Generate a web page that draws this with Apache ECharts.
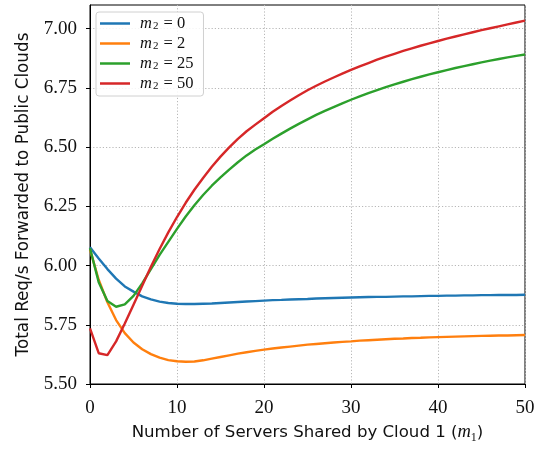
<!DOCTYPE html>
<html>
<head>
<meta charset="utf-8">
<script src="https://cdn.jsdelivr.net/npm/echarts@6/dist/echarts.min.js"></script>
<style>
  html, body { margin: 0; padding: 0; background: #fff; }
  #chart { width: 545px; height: 449px; }
</style>
</head>
<body>
<div id="chart"></div>
<script>
// m1 = 0 .. 50 servers shared by cloud 1
const m1 = Array.from({ length: 51 }, (_, i) => i);

// Total req/s forwarded to public clouds, one array per m2 setting
const m2Labels = ['0', '2', '25', '50'];

const fwdM2_0 = [
  6.077, 6.030, 5.985, 5.945, 5.912, 5.890, 5.870, 5.857, 5.848, 5.842,
  5.839, 5.838, 5.838, 5.839, 5.840, 5.842, 5.844, 5.846, 5.848, 5.850,
  5.852, 5.854, 5.855, 5.857, 5.858, 5.859, 5.861, 5.862, 5.863, 5.864,
  5.865, 5.866, 5.867, 5.868, 5.868, 5.869, 5.870, 5.870, 5.871, 5.872,
  5.872, 5.873, 5.873, 5.874, 5.874, 5.875, 5.875, 5.876, 5.876, 5.876,
  5.877
];

const fwdM2_2 = [
  6.067, 5.940, 5.845, 5.770, 5.715, 5.675, 5.647, 5.626, 5.611, 5.601,
  5.596, 5.594, 5.595, 5.600, 5.607, 5.614, 5.621, 5.628, 5.634, 5.640,
  5.645, 5.650, 5.654, 5.658, 5.662, 5.666, 5.669, 5.672, 5.675, 5.678,
  5.680, 5.683, 5.685, 5.687, 5.689, 5.691, 5.692, 5.694, 5.695, 5.697,
  5.698, 5.699, 5.700, 5.701, 5.702, 5.703, 5.704, 5.705, 5.705, 5.706,
  5.707
];

const fwdM2_25 = [
  6.073, 5.930, 5.850, 5.826, 5.836, 5.872, 5.925, 5.985, 6.045, 6.100,
  6.155, 6.207, 6.255, 6.298, 6.337, 6.372, 6.405, 6.436, 6.465, 6.490,
  6.512, 6.535, 6.557, 6.578, 6.598, 6.617, 6.636, 6.653, 6.669, 6.685,
  6.700, 6.714, 6.728, 6.741, 6.753, 6.765, 6.776, 6.787, 6.797, 6.807,
  6.816, 6.825, 6.834, 6.842, 6.850, 6.858, 6.865, 6.872, 6.879, 6.885,
  6.891
];

const fwdM2_50 = [
  5.735, 5.630, 5.622, 5.680, 5.755, 5.835, 5.915, 5.995, 6.070, 6.140,
  6.205, 6.265, 6.320, 6.370, 6.417, 6.460, 6.499, 6.535, 6.567, 6.595,
  6.622, 6.649, 6.674, 6.697, 6.719, 6.740, 6.759, 6.777, 6.794, 6.810,
  6.826, 6.841, 6.855, 6.869, 6.882, 6.894, 6.906, 6.917, 6.928, 6.938,
  6.948, 6.958, 6.967, 6.976, 6.985, 6.994, 7.002, 7.010, 7.018, 7.026,
  7.034
];

const xTicks = [0, 10, 20, 30, 40, 50];
const yTicks = [5.50, 5.75, 6.00, 6.25, 6.50, 6.75, 7.00];

const seriesData = [fwdM2_0, fwdM2_2, fwdM2_25, fwdM2_50];
const colors = ['#1f77b4', '#ff7f0e', '#2ca02c', '#d62728'];

const serif = "'Liberation Serif', 'DejaVu Serif', serif";
const sans = "'DejaVu Sans', 'Open Sans', sans-serif";

const gridLine = { color: '#b8b8b8', width: 1, type: [1.2, 2] };

const chart = echarts.init(document.getElementById('chart'), null, { renderer: 'canvas' });

chart.setOption({
  animation: false,
  backgroundColor: '#fff',
  color: colors,
  grid: {
    left: 90, right: 20, top: 5, bottom: 65,
    show: true, borderColor: '#000', borderWidth: 1, backgroundColor: 'transparent'
  },
  legend: {
    orient: 'vertical',
    left: 96, top: 12,
    padding: [3, 10, 4, 4],
    itemGap: 3,
    itemWidth: 30, itemHeight: 2.5,
    icon: 'rect',
    backgroundColor: 'rgba(255,255,255,0.85)',
    borderColor: '#d0d0d0', borderWidth: 1, borderRadius: 3,
    data: m2Labels.map(v => 'm2 = ' + v),
    formatter: name => '{i|m}{s|2}{t| = ' + name.split('= ')[1] + '}',
    textStyle: {
      lineHeight: 16,
      padding: [0, 0, 0, 5],
      rich: {
        i: { fontFamily: serif, fontStyle: 'italic', fontSize: 16.5, color: '#111', verticalAlign: 'middle', lineHeight: 16 },
        s: { fontFamily: serif, fontSize: 11, color: '#111', verticalAlign: 'bottom', lineHeight: 16, padding: [0, 1, 0, 1] },
        t: { fontFamily: serif, fontSize: 16.5, color: '#111', verticalAlign: 'middle', lineHeight: 16 }
      }
    }
  },
  xAxis: {
    type: 'value',
    min: 0, max: 50, interval: 10,
    name: 'Number of Servers Shared by Cloud 1 ({i|m}{s|1}{p|)}',
    nameLocation: 'middle',
    nameGap: 37,
    nameTextStyle: {
      fontFamily: sans, fontSize: 16.6, color: '#111',
      rich: {
        i: { fontFamily: serif, fontStyle: 'italic', fontSize: 18.5, color: '#111', verticalAlign: 'middle', lineHeight: 22 },
        s: { fontFamily: serif, fontSize: 12, color: '#111', verticalAlign: 'bottom', lineHeight: 22 },
        p: { fontFamily: sans, fontSize: 16.6, color: '#111', verticalAlign: 'middle', lineHeight: 22 }
      }
    },
    axisLine: { show: true, onZero: false, lineStyle: { color: '#000', width: 1 } },
    axisTick: { show: true, inside: false, length: 4, customValues: xTicks, lineStyle: { color: '#000', width: 1 } },
    axisLabel: { margin: 15, customValues: xTicks, fontFamily: serif, fontSize: 19, color: '#111' },
    splitLine: { show: true, lineStyle: gridLine }
  },
  yAxis: {
    type: 'value',
    min: 5.5, max: 7.1, interval: 0.25,
    name: 'Total Req/s Forwarded to Public Clouds',
    nameLocation: 'middle',
    nameGap: 58,
    nameTextStyle: { fontFamily: sans, fontSize: 16.8, color: '#111' },
    axisLine: { show: true, onZero: false, lineStyle: { color: '#000', width: 1 } },
    axisTick: { show: true, inside: false, length: 4, customValues: yTicks, lineStyle: { color: '#000', width: 1 } },
    axisLabel: {
      margin: 13, customValues: yTicks, fontFamily: serif, fontSize: 19, color: '#111',
      formatter: v => v.toFixed(2)
    },
    splitLine: { show: true, lineStyle: gridLine }
  },
  series: seriesData.map((vals, k) => ({
    name: 'm2 = ' + m2Labels[k],
    type: 'line',
    data: m1.map((x, i) => [x, vals[i]]),
    showSymbol: false,
    symbol: 'none',
    lineStyle: { width: 2.4, color: colors[k] },
    itemStyle: { color: colors[k] },
    z: 2 + k
  }))
});
</script>
</body>
</html>
